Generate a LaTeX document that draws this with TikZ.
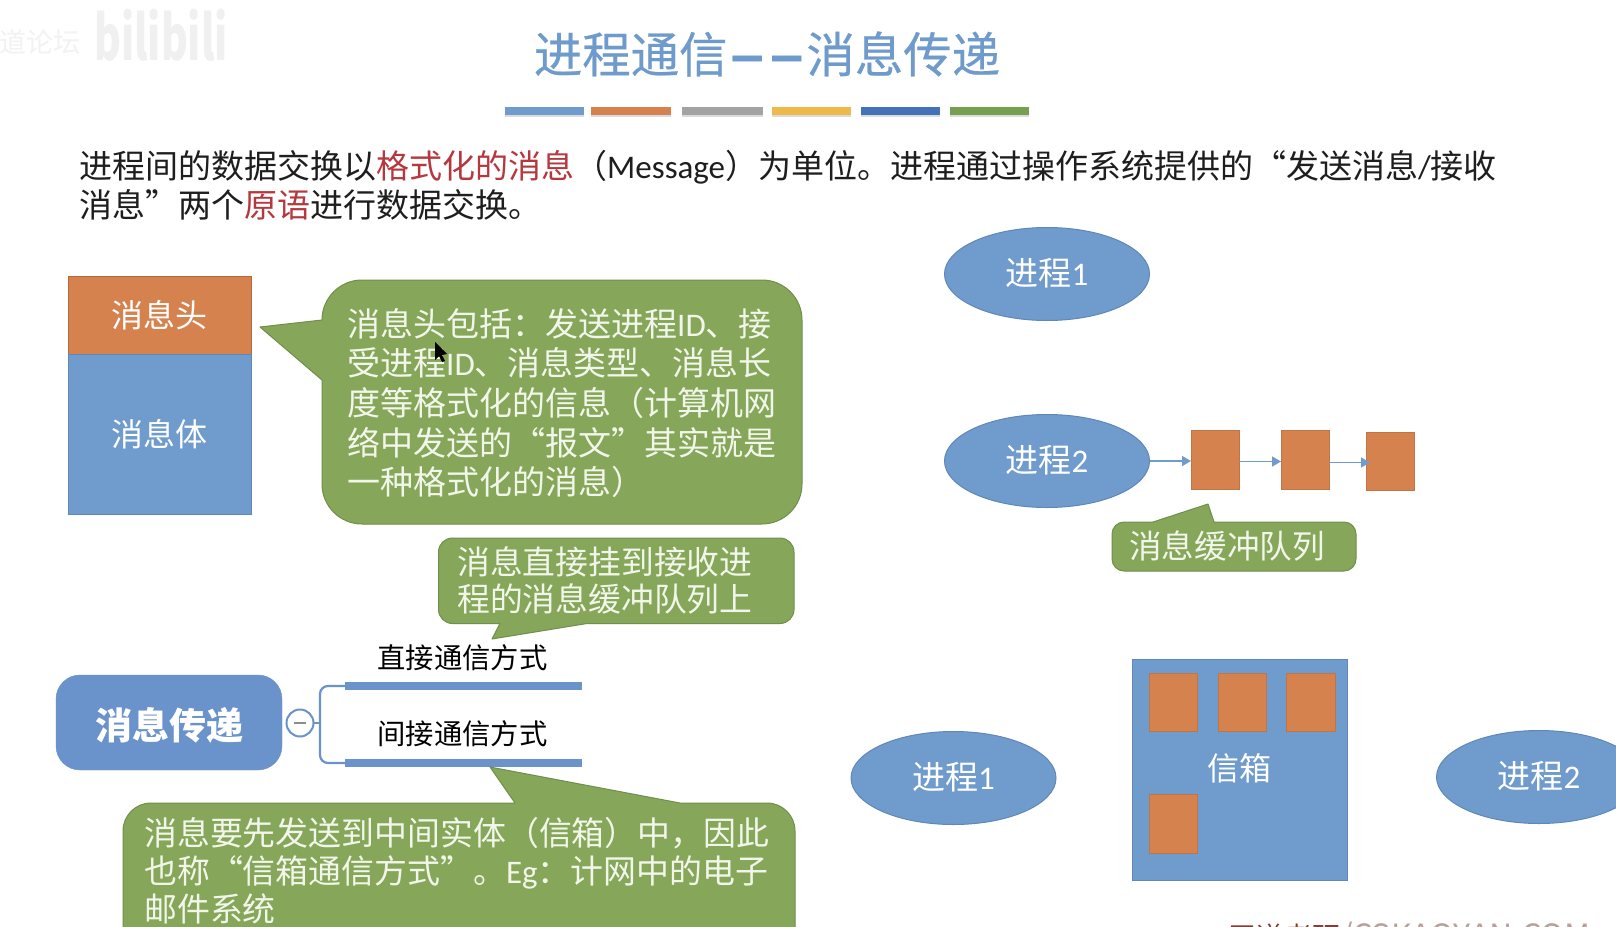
\documentclass[tikz,border=0pt]{standalone}
\usepackage{fontspec}
\setmainfont{Noto Sans CJK SC}
\newfontfamily\latinf{Carlito}
\newcommand{\lt}[1]{{\latinf #1}}
\usetikzlibrary{arrows.meta,shapes.geometric}
\definecolor{cblue}{HTML}{6F9BCD}
\definecolor{cblueb}{HTML}{5F88B8}
\definecolor{corange}{HTML}{D5824F}
\definecolor{corangeb}{HTML}{B26A3E}
\definecolor{cgreen}{HTML}{86A65A}
\definecolor{cgreenb}{HTML}{6F8F4B}
\definecolor{ctitle}{HTML}{6E9BCB}
\definecolor{cmap}{HTML}{6A92CB}
\definecolor{cred}{HTML}{B5383E}
\definecolor{ctext}{HTML}{1E1E1E}
\definecolor{cwhite}{HTML}{F2F6EA}
\definecolor{cfootb}{HTML}{8A3A30}
\definecolor{cfootg}{HTML}{B8A09C}
\newcommand{\fs}[2]{\fontsize{#1}{#2}\selectfont}
\newcommand{\tdash}{\makebox[39.5pt][c]{\scalebox{.74}[1]{\bfseries —}}}
\tikzset{
  rectbox/.style={inner sep=0pt,outer sep=0pt,anchor=north west},
  msgbox/.style={rectbox,fill=corange,draw=corange!90!black,line width=.8pt,minimum width=48pt,minimum height=58pt},
  proc/.style={ellipse,fill=cblue,draw=cblueb,line width=1pt,minimum width=205pt,minimum height=93pt,inner sep=0pt,outer sep=0pt,text=white,font=\fs{33}{38}},
  proctext/.style={inner sep=0pt,text=white,font=\fs{33}{38}},
  callout/.style={fill=cgreen,draw=cgreenb,line width=1pt,line join=round},
  calltext/.style={inner sep=0pt,anchor=north west,align=left,text=cwhite},
  flow/.style={draw=cblue,line width=1.6pt,-{Triangle[length=9pt,width=10pt,fill=cblue]}},
  bar/.style={inner sep=0pt,outer sep=0pt,anchor=north west,minimum height=8pt},
  barline/.style={draw=cmap,line width=2.2pt,rounded corners=8pt},
}
\begin{document}
\begin{tikzpicture}[x=1pt,y=-1pt]
\useasboundingbox (0,0) rectangle (1616,926);
\clip (0,0) rectangle (1616,926);
\fill[white] (0,0) rectangle (1616,926);

% watermark
\node[inner sep=0pt,text=black!6,font=\fs{62}{62}\bfseries,xscale=.66] (wm) at (161,35) {bilibili};
\node[inner sep=0pt,text=black!5,font=\fs{27}{30}] (wm2) at (40,42) {道论坛};

% title
\node[inner sep=0pt,text=ctitle,font=\fs{48.4}{50}\addfontfeature{FakeBold=0.5}] (title) at (767,54) {进程通信\tdash\tdash 消息传递};

% coloured bars
\foreach \n/\xa/\xb/\c in {a/505/584/6F9BCD,b/591/671/D5824F,c/682/763/A3A3A3,d/772/851/EDB94A,e/861/940/4472B8,f/950/1029/76A04F}{
  \definecolor{barc}{HTML}{\c}
  \fill[black!14] (\xa,109) rectangle (\xb,117);
  \node[bar,fill=barc,minimum width={\xb-\xa}] (bar\n) at (\xa,107) {};
}

% intro
\node[inner sep=0pt,anchor=north west,align=left,text=ctext,font=\fs{33}{39.5}] (intro) at (79,150)
 {进程间的数据交换以\textcolor{cred}{格式化的消息}（\lt{Message}）为单位。进程通过操作系统提供的“发送消息\lt{/}接收\\
  消息”两个\textcolor{cred}{原语}进行数据交换。};

% message structure
\node[rectbox,fill=corange,draw=corangeb,line width=.6pt,minimum width=183.5pt,minimum height=78.5pt,text=white,font=\fs{32}{38}] (head) at (68,276) {消息头};
\node[rectbox,fill=cblue,draw=cblueb,line width=.6pt,minimum width=183.5pt,minimum height=160pt,text=white,font=\fs{32}{38}] (body) at (68,354.5) {消息体};

% callout 1
\draw[callout] (260,327) -- (322,320) [rounded corners=40pt] -- (322,280) -- (802,280) -- (802,524) -- (322,524) [sharp corners] -- (322,380) -- cycle;
\node[calltext,font=\fs{33}{39.6}] (c1) at (347,308)
 {消息头包括：发送进程\lt{ID}、接\\受进程\lt{ID}、消息类型、消息长\\度等格式化的信息（计算机网\\络中发送的“报文”其实就是\\一种格式化的消息）};

% cursor
\fill[black] (435,342) -- (435,360) -- (439,356) -- (442,362) -- (445,361) -- (442,355) -- (447,354) -- cycle;

% callout 2
\draw[callout] (492,639) -- (500,623.5) [rounded corners=14pt] -- (438.5,623.5) -- (438.5,538) -- (794,538) -- (794,623.5) [sharp corners] -- (587,623.5) -- cycle;
\node[calltext,font=\fs{32.8}{37}] (c2) at (457,546) {消息直接挂到接收进\\程的消息缓冲队列上};

% message passing map
\node[rectbox,fill=cmap,draw=cmap,rounded corners=24pt,minimum width=226pt,minimum height=95pt] (root) at (56,675) {};
\node[inner sep=0pt,text=white,font=\fs{37}{42}\bfseries] (rootl) at (169,725) {消息传递};
\node[bar,fill=cmap,minimum width=237pt] (b1) at (345,682) {};
\node[bar,fill=cmap,minimum width=237pt] (b2) at (345,759) {};
\node[inner sep=0pt,text=black,font=\fs{28.3}{32}] (l1) at (462.5,658) {直接通信方式};
\node[inner sep=0pt,text=black,font=\fs{28.3}{32}] (l2) at (462.5,734) {间接通信方式};
\coordinate (fork) at (320,723);
\draw[barline] (b1.west) -- (fork |- b1.west) -- (fork |- b2.west) -- (b2.west);
\draw[draw=cmap,line width=2pt] (fork) -- (312,723);
\node[circle,draw=cmap,fill=white,line width=2pt,minimum size=27pt,inner sep=0pt] (minus) at (300,723) {};
\draw[black!45,line width=2pt] ([xshift=-6pt]minus.center) -- ([xshift=6pt]minus.center);

% callout 3
\draw[callout] (490,767) -- (515,803) [rounded corners=28pt] -- (123,803) -- (123,990) -- (795,990) -- (795,803) [sharp corners] -- (680,803) -- cycle;
\node[calltext,font=\fs{32.9}{38}] (c3) at (144,817)
 {消息要先发送到中间实体（信箱）中，因此\\也称“信箱通信方式”。\lt{Eg}：计网中的电子\\邮件系统};

% direct communication
\node[proc] (p1) at (1047,274) {};
\node[proctext] (p1l) at (1047,273) {进程\lt{1}};
\node[proc] (p2) at (1047,461) {};
\node[proctext] (p2l) at (1047,460) {进程\lt{2}};
\node[msgbox,minimum height=59pt] (q1) at (1191,430) {};
\node[msgbox,minimum height=59pt] (q2) at (1281,430) {};
\node[msgbox] (q3) at (1366,432) {};
\draw[flow] (p2.east) -- (p2.east -| q1.west);
\draw[flow] ([yshift=-2pt]q1.east) -- ([yshift=-2pt]q2.west);
\draw[flow,shorten >=-4pt] ([yshift=-3pt]q2.east) -- ([yshift=-3pt]q2.east -| q3.west);

% callout 4
\draw[callout] (1208,504) -- (1214,522) [rounded corners=12pt] -- (1356,522) -- (1356,571) -- (1112,571) -- (1112,522) [sharp corners] -- (1153,522) -- cycle;
\node[inner sep=0pt,text=cwhite,font=\fs{32.6}{38}] (c4) at (1227,546) {消息缓冲队列};

% mailbox
\node[rectbox,fill=cblue,draw=cblueb,line width=.6pt,minimum width=215pt,minimum height=221pt] (box) at (1132.5,659) {};
\node[inner sep=0pt,text=white,font=\fs{32}{38}] (boxl) at (1239,768) {信箱};
\node[msgbox] (m1) at (1149,673) {};
\node[msgbox] (m2) at (1218,673) {};
\node[msgbox,minimum width=49pt] (m3) at (1286,673) {};
\node[msgbox,minimum height=59pt] (m4) at (1149,794) {};
\node[proc] (p3) at (953.5,778) {};
\node[proctext] (p3l) at (953.5,777) {进程\lt{1}};
\node[proc] (p4) at (1539,777) {};
\node[proctext] (p4l) at (1539,776) {进程\lt{2}};

% cropped footer
\node[inner sep=0pt,anchor=base west,font=\fs{28}{32}] (foot) at (1228,947) {\textcolor{cfootb}{王道考研}\textcolor{cfootg}{\fs{32}{32}/CSKAOYAN.COM}};
\end{tikzpicture}
\end{document}
